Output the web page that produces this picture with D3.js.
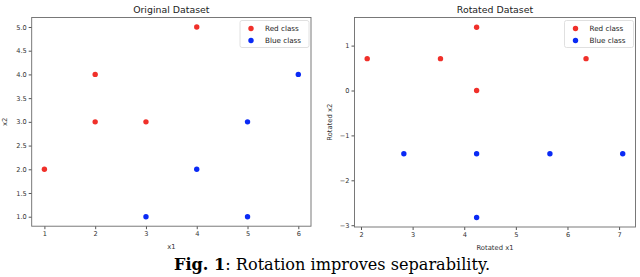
<!DOCTYPE html>
<html>
<head>
<meta charset="utf-8">
<script src="https://cdn.jsdelivr.net/npm/d3@7"></script>
<style>
  body { margin: 0; background: #fff; }
  svg { display: block; }
  .sans { font-family: "DejaVu Sans", sans-serif; }
  .tick text { fill: #333; font-size: 6.6px; font-family: "DejaVu Sans", sans-serif; }
  .tick line { stroke: #555; }
  .caption { font-family: "DejaVu Serif", serif; }
</style>
</head>
<body>
<svg id="chart"></svg>
<script>
var svgWidth = 640;
var svgHeight = 277;

// original points
var redX = [1, 2, 2, 3, 4];
var redY = [2, 3, 4, 3, 5];
var blueX = [3, 4, 5, 5, 6];
var blueY = [1, 2, 1, 3, 4];

// rotated points
var rotRedX = [2.12, 3.54, 4.24, 4.24, 6.36];
var rotRedY = [0.71, 0.71, 1.41, 0, 0.71];
var rotBlueX = [2.83, 4.24, 4.24, 5.66, 7.07];
var rotBlueY = [-1.41, -1.41, -2.83, -1.41, -1.41];

var xTicksLeft = [1, 2, 3, 4, 5, 6];
var yTicksLeft = [1.0, 1.5, 2.0, 2.5, 3.0, 3.5, 4.0, 4.5, 5.0];
var xTicksRight = [2, 3, 4, 5, 6, 7];
var yTicksRight = [-3, -2, -1, 0, 1];

var redColor = "#f0302a";
var blueColor = "#0a2af5";

var svg = d3.select("#chart")
  .attr("width", svgWidth)
  .attr("height", svgHeight);

function zip(xs, ys) {
  return xs.map((x, i) => ({x: x, y: ys[i]}));
}

function drawPanel(opt) {
  var x = d3.scaleLinear().domain(opt.xDomain).range([opt.left, opt.right]);
  var y = d3.scaleLinear().domain(opt.yDomain).range([opt.bottom, opt.top]);

  var g = svg.append("g").attr("class", "sans");

  // axes
  g.append("g")
    .attr("transform", `translate(0, ${opt.bottom})`)
    .call(d3.axisBottom(x).tickValues(opt.xTicks).tickSize(3).tickPadding(2).tickFormat(opt.xFmt))
    .call(a => a.select(".domain").remove());

  g.append("g")
    .attr("transform", `translate(${opt.left}, 0)`)
    .call(d3.axisLeft(y).tickValues(opt.yTicks).tickSize(3).tickPadding(2).tickFormat(opt.yFmt))
    .call(a => a.select(".domain").remove());

  // frame
  g.append("rect")
    .attr("x", opt.left)
    .attr("y", opt.top)
    .attr("width", opt.right - opt.left)
    .attr("height", opt.bottom - opt.top)
    .attr("fill", "none")
    .attr("stroke", "#6a6a6a")
    .attr("stroke-width", 0.9);

  // points
  g.selectAll(".red")
    .data(zip(opt.redX, opt.redY))
    .enter()
    .append("circle")
    .attr("cx", d => x(d.x))
    .attr("cy", d => y(d.y))
    .attr("r", 2.7)
    .attr("fill", redColor);

  g.selectAll(".blue")
    .data(zip(opt.blueX, opt.blueY))
    .enter()
    .append("circle")
    .attr("cx", d => x(d.x))
    .attr("cy", d => y(d.y))
    .attr("r", 2.7)
    .attr("fill", blueColor);

  // title
  g.append("text")
    .attr("x", (opt.left + opt.right) / 2)
    .attr("y", opt.top - 5)
    .attr("text-anchor", "middle")
    .attr("font-size", "9.4px")
    .attr("fill", "#222")
    .text(opt.title);

  // axis labels
  g.append("text")
    .attr("x", (opt.left + opt.right) / 2)
    .attr("y", opt.bottom + 23)
    .attr("text-anchor", "middle")
    .attr("font-size", "6.8px")
    .attr("fill", "#333")
    .text(opt.xLabel);

  g.append("text")
    .attr("transform", `translate(${opt.yLabelX}, ${(opt.top + opt.bottom) / 2}) rotate(-90)`)
    .attr("text-anchor", "middle")
    .attr("font-size", "6.8px")
    .attr("fill", "#333")
    .text(opt.yLabel);

  // legend
  var lg = g.append("g").attr("transform", `translate(${opt.right - 71}, ${opt.top + 3})`);
  lg.append("rect")
    .attr("width", 69)
    .attr("height", 27)
    .attr("rx", 2)
    .attr("fill", "#fff")
    .attr("stroke", "#d8d8d8")
    .attr("stroke-width", 0.8);
  [["Red class", redColor], ["Blue class", blueColor]].forEach(function(item, i) {
    lg.append("circle")
      .attr("cx", 11)
      .attr("cy", 8 + i * 12)
      .attr("r", 2.7)
      .attr("fill", item[1]);
    lg.append("text")
      .attr("x", 25)
      .attr("y", 8 + i * 12 + 2.5)
      .attr("font-size", "7.2px")
      .attr("fill", "#222")
      .text(item[0]);
  });
}

drawPanel({
  left: 31.7, right: 311, top: 17.5, bottom: 226.2,
  xDomain: [0.75, 6.25], yDomain: [0.8, 5.2],
  xTicks: xTicksLeft, yTicks: yTicksLeft,
  xFmt: d3.format("d"), yFmt: d3.format(".1f"),
  redX: redX, redY: redY, blueX: blueX, blueY: blueY,
  title: "Original Dataset", xLabel: "x1", yLabel: "x2", yLabelX: 7
});

drawPanel({
  left: 354.5, right: 635.5, top: 17.5, bottom: 227,
  xDomain: [1.874, 7.318], yDomain: [-3.04, 1.626],
  xTicks: xTicksRight, yTicks: yTicksRight,
  xFmt: d3.format("d"), yFmt: d => d < 0 ? "\u2212" + Math.abs(d) : d,
  redX: rotRedX, redY: rotRedY, blueX: rotBlueX, blueY: rotBlueY,
  title: "Rotated Dataset", xLabel: "Rotated x1", yLabel: "Rotated x2", yLabelX: 331.5
});

// caption, sized to span the same width as the printed one
var cap = svg.append("text")
  .attr("class", "caption")
  .attr("x", 174)
  .attr("y", 270)
  .attr("font-size", "15px")
  .attr("fill", "#000");
cap.append("tspan").attr("font-weight", "bold").text("Fig. 1");
cap.append("tspan").text(": Rotation improves separability.");
var capW = cap.node().getComputedTextLength();
cap.attr("font-size", (15 * 316 / capW).toFixed(2) + "px");
</script>
</body>
</html>
